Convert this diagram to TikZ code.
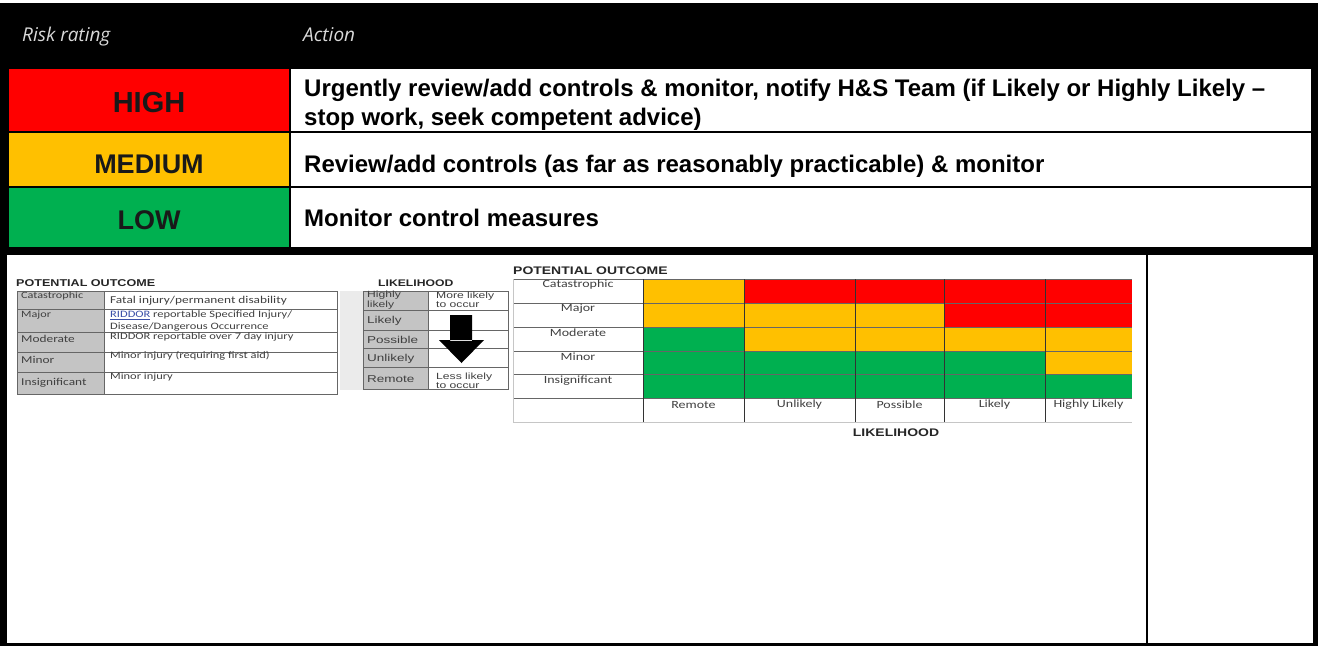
\documentclass[tikz,border=0pt]{standalone}
\usepackage{fontspec}
\setmainfont{Liberation Sans}
\newfontfamily\hdrfont{Open Sans}
\newfontfamily\calw[FakeStretch=1.27]{Carlito}
\newfontfamily\arw[FakeStretch=1.35]{Liberation Sans}
\newfontfamily\arwt[FakeStretch=1.27]{Liberation Sans}
\definecolor{rred}{HTML}{FF0000}
\definecolor{ramber}{HTML}{FFC000}
\definecolor{rgreen}{HTML}{00B050}
\definecolor{lgray}{HTML}{C4C4C4}
\definecolor{stripgray}{HTML}{EBEBEB}
\definecolor{linkblue}{HTML}{3A4FA8}
\begin{document}
\begin{tikzpicture}[x=1pt,y=-1pt,
  hdr/.style={font=\hdrfont\itshape\fontsize{19}{22}\selectfont, text=white!85!black, anchor=base west, inner sep=0},
  rate/.style={font=\bfseries\fontsize{27}{30}\selectfont, inner sep=0, anchor=base, text=black!90},
  act/.style={font=\bfseries\fontsize{24}{29}\selectfont, anchor=base west, inner sep=0, text=black},
  smc/.style={font=\calw\fontsize{10.5}{12}\selectfont, anchor=west, inner sep=0, text=black!75},
  sma/.style={font=\arw\fontsize{10}{7.8}\selectfont, anchor=west, inner sep=0, align=left, text=black!75},
  ttl/.style={font=\arwt\bfseries\fontsize{11}{12}\selectfont, anchor=west, inner sep=0, text=black!85},
  mlab/.style={font=\calw\fontsize{11}{12}\selectfont, inner sep=0, text=black!75},
  tline/.style={draw=gray!80!black, line width=0.6pt},
  gline/.style={draw=gray!45, line width=0.6pt},
  dline/.style={draw=black!80, line width=0.7pt},
]
\useasboundingbox (0,0) rectangle (1318,646);
\fill[white] (0,0) rectangle (1318,646);

% ---------- top table ----------
\fill[black] (0,3) rectangle (1318,255);
\fill[rred]   (9,69)  rectangle (289,131);
\fill[white]  (291,69) rectangle (1311,131);
\fill[ramber] (9,133) rectangle (289,186);
\fill[white]  (291,133) rectangle (1311,186);
\fill[rgreen] (9,188) rectangle (289,247);
\fill[white]  (291,188) rectangle (1311,247);

\node[hdr] (hrisk) at (22,41) {Risk rating};
\node[hdr] (hact) at (303,41) {Action};

\node[rate, font=\bfseries\fontsize{29}{32}\selectfont] (high) at (149,112) {HIGH};
\node[rate] (med) at (149,173) {MEDIUM};
\node[rate] (low) at (149,229) {LOW};

\node[act] (ahigh1) at (304,96) {Urgently review/add controls \& monitor, notify H\&S Team (if Likely or Highly Likely --};
\node[act] (ahigh2) at (304,125) {stop work, seek competent advice)};
\node[act] (amed) at (304,172) {Review/add controls (as far as reasonably practicable) \& monitor};
\node[act] (alow) at (304,226) {Monitor control measures};

% ---------- lower section ----------
\fill[black] (0,255) rectangle (1318,646);
\fill[white] (7,255) rectangle (1313,643);
\draw[black, line width=1.3pt] (1147,255) -- (1147,643);

% left table: potential outcome
\node[ttl, font=\arwt\bfseries\fontsize{9.9}{11}\selectfont] (pot1) at (16,283) {POTENTIAL OUTCOME};
\fill[lgray] (17,291) rectangle (104,394);
\draw[tline] (17,291) rectangle (337,394);
\foreach \yy in {309,332,352,372} \draw[tline] (17,\yy) -- (337,\yy);
\draw[tline] (104,291) -- (104,394);

\node[smc, font=\calw\fontsize{9.6}{11}\selectfont] (lcat) at (21,296) {Catastrophic};
\node[smc, font=\calw\fontsize{9.6}{11}\selectfont] (lmaj) at (21,315) {Major};
\node[smc] (lmod) at (21,339) {Moderate};
\node[smc] (lmin) at (21,360) {Minor};
\node[smc] (lins) at (21,383) {Insignificant};

\node[smc] (dcat) at (110,301) {Fatal injury/permanent disability};
\node[smc, font=\calw\fontsize{9.8}{11}\selectfont] (dmaj1) at (110,315) {\textcolor{linkblue}{\underline{RIDDOR}} reportable Specified Injury/};
\node[smc, font=\calw\fontsize{9.8}{11}\selectfont] (dmaj2) at (110,327) {Disease/Dangerous Occurrence};
\node[smc, font=\calw\fontsize{9.8}{11}\selectfont] (dmod) at (110,337) {RIDDOR reportable over 7 day injury};
\node[smc, font=\calw\fontsize{9.8}{11}\selectfont] (dmin) at (110,356) {Minor injury (requiring first aid)};
\node[smc, font=\calw\fontsize{9.8}{11}\selectfont] (dins) at (110,377) {Minor injury};

% likelihood table
\node[ttl, font=\arwt\bfseries\fontsize{9.6}{11}\selectfont] (lik1) at (378,283) {LIKELIHOOD};
\fill[stripgray] (340,291) rectangle (363,390);
\fill[lgray] (363,291) rectangle (428,389);
\draw[tline] (363,291) rectangle (508,389);
\draw[tline] (428,291) -- (428,389);
\foreach \yy in {310,330,348,367} \draw[tline] (363,\yy) -- (508,\yy);

\node[sma, font=\arw\fontsize{9}{7.6}\selectfont] (thl) at (367,300) {Highly\\likely};
\node[sma] (tl) at (367,321) {Likely};
\node[sma] (tp) at (367,340) {Possible};
\node[sma] (tu) at (367,359) {Unlikely};
\node[sma] (tr) at (367,379) {Remote};
\node[sma, font=\arw\fontsize{9}{7.6}\selectfont] (tmore) at (436,300) {More likely\\to occur};
\node[sma, font=\arw\fontsize{9}{7.6}\selectfont] (tless) at (436,381) {Less likely\\to occur};

\fill[black] (450,315) rectangle (472,341) (439,340) -- (484,340) -- (461.5,363) -- cycle;

% risk matrix
\node[ttl] (pot2) at (513,271) {POTENTIAL OUTCOME};
\def\cx{{643,744,855,944,1045,1132}}
\def\ry{{279,303,327,351,374,398,422}}
% colours: rows top to bottom, columns Remote..Highly Likely
\foreach \r/\cols in {0/{ramber,rred,rred,rred,rred},1/{ramber,ramber,ramber,rred,rred},2/{rgreen,ramber,ramber,ramber,ramber},3/{rgreen,rgreen,rgreen,rgreen,ramber},4/{rgreen,rgreen,rgreen,rgreen,rgreen}}{
  \foreach \c [count=\ci from 0] in \cols {
    \pgfmathsetmacro{\xa}{\cx[\ci]}
    \pgfmathsetmacro{\xb}{\cx[\ci+1]}
    \pgfmathsetmacro{\ya}{\ry[\r]}
    \pgfmathsetmacro{\yb}{\ry[\r+1]}
    \fill[\c] (\xa,\ya) rectangle (\xb,\yb);
  }
}
\foreach \yy in {279,303,327,351,374,398} \draw[tline] (513,\yy) -- (1132,\yy);
\draw[gline] (513,422) -- (1132,422);
\draw[gline] (513,279) -- (513,422);
\draw[dline] (643,279) -- (643,422);
\foreach \xx in {744,855,944,1045} \draw[dline] (\xx,279) -- (\xx,422);

\node[mlab] (mcat) at (578,285) {Catastrophic};
\node[mlab] (mmaj) at (578,309) {Major};
\node[mlab] (mmod) at (578,333) {Moderate};
\node[mlab] (mmin) at (578,357) {Minor};
\node[mlab] (mins) at (578,381) {Insignificant};

\node[mlab] (crem) at (693.5,405) {Remote};
\node[mlab] (cunl) at (799.5,405) {Unlikely};
\node[mlab] (cpos) at (899.5,405) {Possible};
\node[mlab] (clik) at (994.5,405) {Likely};
\node[mlab] (chl) at (1088.5,405) {Highly Likely};

\node[ttl, anchor=center] (lik2) at (896,433) {LIKELIHOOD};
\end{tikzpicture}
\end{document}
